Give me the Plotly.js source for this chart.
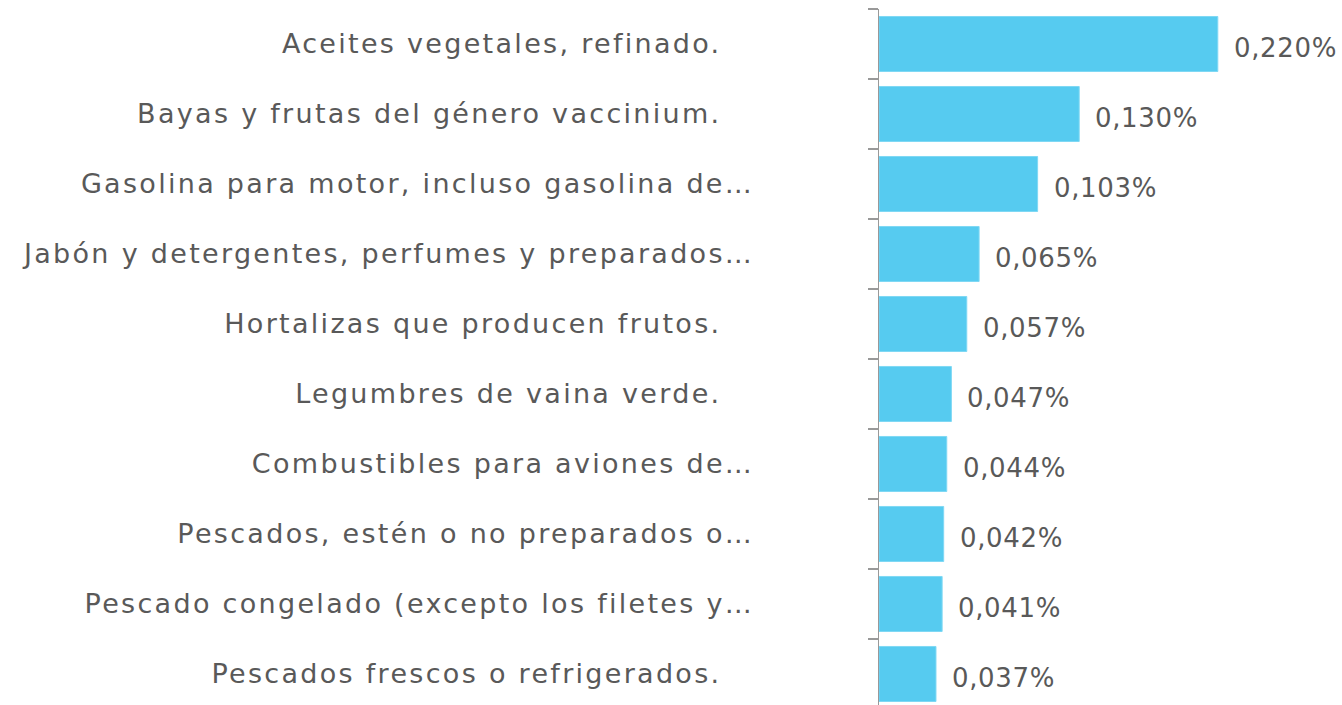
<!DOCTYPE html>
<html>
<head>
<meta charset="utf-8">
<script src="https://cdn.plot.ly/plotly-3.0.1.min.js"></script>
<style>
html,body{margin:0;padding:0;background:#fff;}
#chart{width:1342px;height:705px;}
#chart .ytick text{letter-spacing:2.3px;}
#chart .annotation-text{letter-spacing:0.7px;}
</style>
</head>
<body>
<div id="chart"></div>
<script>
const categories = [
  "Aceites vegetales, refinado.",
  "Bayas y frutas del género vaccinium.",
  "Gasolina para motor, incluso gasolina de…",
  "Jabón y detergentes, perfumes y preparados…",
  "Hortalizas que producen frutos.",
  "Legumbres de vaina verde.",
  "Combustibles para aviones de…",
  "Pescados, estén o no preparados o…",
  "Pescado congelado (excepto los filetes y…",
  "Pescados frescos o refrigerados."
];
const values = [0.220, 0.130, 0.103, 0.065, 0.057, 0.047, 0.044, 0.042, 0.041, 0.037];
const valueLabels = ["0,220%", "0,130%", "0,103%", "0,065%", "0,057%", "0,047%", "0,044%", "0,042%", "0,041%", "0,037%"];

const FONT = "DejaVu Sans, sans-serif";
const GREY = "#595959";

// pad labels without ellipsis so they end a bit left (as in the original)
const tickText = categories.map(c => c.endsWith("…") ? c : c + "\u00a0\u00a0\u00a0");

const trace = {
  type: "bar",
  orientation: "h",
  x: values,
  y: categories,
  marker: {color: "#56CBF0", line: {color: "#7fd8f4", width: 1}},
  hoverinfo: "none"
};

const annotations = values.map((v, i) => ({
  x: v, y: categories[i], xref: "x", yref: "y",
  text: valueLabels[i], showarrow: false,
  xanchor: "left", yanchor: "middle",
  xshift: 16, yshift: -4,
  font: {family: FONT, size: 26, color: GREY}
}));

const layout = {
  width: 1342, height: 705,
  margin: {l: 879, r: 78, t: 9, b: 0, pad: 0},
  paper_bgcolor: "#fff", plot_bgcolor: "#fff",
  showlegend: false,
  bargap: 0.214,
  xaxis: {
    range: [0, 0.25], visible: false, showgrid: false, zeroline: false, fixedrange: true
  },
  yaxis: {
    type: "category",
    range: [9.443, -0.5],
    tickmode: "array",
    tickvals: categories,
    ticktext: tickText,
    tickson: "boundaries",
    ticks: "outside", ticklen: 10, tickwidth: 1.5, tickcolor: "#999999",
    showline: true, linecolor: "#999999", linewidth: 1.5,
    showgrid: false, zeroline: false,
    ticklabelstandoff: 118,
    tickfont: {family: FONT, size: 27, color: GREY},
    automargin: false
  },
  annotations: annotations
};

Plotly.newPlot("chart", [trace], layout, {displayModeBar: false, staticPlot: true});
</script>
</body>
</html>
